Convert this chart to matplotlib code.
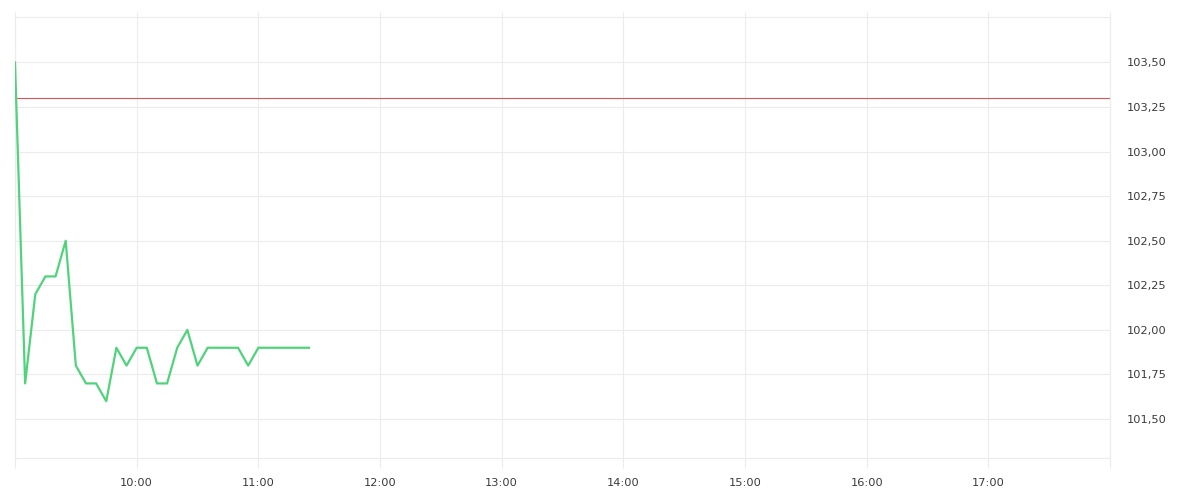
import matplotlib
matplotlib.use("Agg")
import matplotlib.pyplot as plt
import matplotlib.ticker as mticker
import pandas as pd

plt.rcParams["font.family"] = ["DejaVu Sans"]

times = ["09:00", "09:05", "09:10", "09:15", "09:20", "09:25", "09:30", "09:35",
         "09:40", "09:45", "09:50", "09:55", "10:00", "10:05", "10:10", "10:15",
         "10:20", "10:25", "10:30", "10:35", "10:40", "10:45", "10:50", "10:55",
         "11:00", "11:05", "11:10", "11:15", "11:20", "11:25"]
prices = [103.50, 101.70, 102.20, 102.30, 102.30, 102.50, 101.80, 101.70,
          101.70, 101.60, 101.90, 101.80, 101.90, 101.90, 101.70, 101.70,
          101.90, 102.00, 101.80, 101.90, 101.90, 101.90, 101.90, 101.80,
          101.90, 101.90, 101.90, 101.90, 101.90, 101.90]
prev_close = 103.30
hours = ["09:00", "10:00", "11:00", "12:00", "13:00", "14:00", "15:00",
         "16:00", "17:00", "18:00"]
y_ticks = [101.50, 101.75, 102.00, 102.25, 102.50, 102.75, 103.00, 103.25, 103.50]

day = "2024-01-02 "
x = pd.to_datetime([day + t for t in times])
hx = pd.to_datetime([day + h for h in hours])

grid_c = "#ececec"
text_c = "#3a3a3a"

fig = plt.figure(figsize=(12, 5), dpi=100)
ax = fig.add_axes([0.0125, 0.0834, 0.9125, 0.8826])

ax.plot(x, prices, color="#4fd37b", linewidth=1.6, solid_joinstyle="round", zorder=3)
ax.axhline(prev_close, color="#e0525c", linewidth=0.8, zorder=2)

ax.set_xlim(hx[0], hx[-1])
ax.set_ylim(101.28, 103.755)

ax.set_xticks(hx)
ax.set_xticklabels([""] + hours[1:-1] + [""])
ax.yaxis.tick_right()
ax.set_yticks(y_ticks)
ax.yaxis.set_major_formatter(mticker.FuncFormatter(lambda v, p: f"{v:.2f}".replace(".", ",")))

ax.grid(True, color=grid_c, linewidth=0.8, zorder=0)
ax.tick_params(axis="x", length=7.2, width=0.8, color=grid_c, pad=7,
               labelsize=8.2, labelcolor=text_c)
ax.tick_params(axis="y", length=0, pad=12, labelsize=8.2, labelcolor=text_c)
# short stubs of the vertical grid above the top edge
ax.vlines(hx, 1.0, 1.011, transform=ax.get_xaxis_transform(), color=grid_c,
          linewidth=0.8, clip_on=False)

for s in ax.spines.values():
    s.set_color(grid_c)
    s.set_linewidth(0.8)

fig.savefig("out.png", dpi=100, facecolor="white")
